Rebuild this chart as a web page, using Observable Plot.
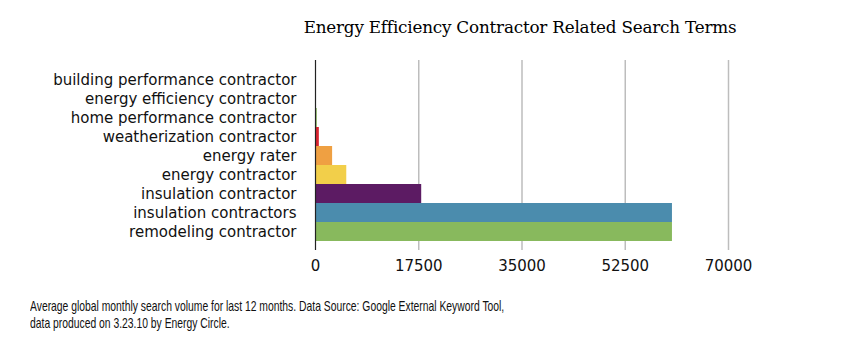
<!DOCTYPE html>
<html>
<head>
<meta charset="utf-8">
<script src="https://cdn.jsdelivr.net/npm/d3@7"></script>
<script src="https://cdn.jsdelivr.net/npm/@observablehq/plot@0.6"></script>
<style>
  html, body { margin: 0; padding: 0; background: #fff; }
  #wrap { position: relative; width: 864px; height: 352px; overflow: hidden; }
  #title { position: absolute; top: 17px; left: 0; width: 1040px; text-align: center;
    font-family: "DejaVu Serif", serif; font-size: 16.8px; color: #000; letter-spacing: -0.2px; }
  #chart { position: absolute; top: 50px; left: 0; }
  #caption { position: absolute; top: 297px; left: 30px; font-family: "Liberation Sans", sans-serif;
    font-size: 15px; line-height: 17px; color: #111; white-space: nowrap;
    transform: scaleX(0.69); transform-origin: 0 0; }
</style>
</head>
<body>
<div id="wrap">
  <div id="title">Energy Efficiency Contractor Related Search Terms</div>
  <div id="chart"></div>
  <div id="caption">Average global monthly search volume for last 12 months. Data Source: Google External Keyword Tool,<br>data produced on 3.23.10 by Energy Circle.</div>
</div>
<script>
const categories = [
  "building performance contractor",
  "energy efficiency contractor",
  "home performance contractor",
  "weatherization contractor",
  "energy rater",
  "energy contractor",
  "insulation contractor",
  "insulation contractors",
  "remodeling contractor"
];
const volumes = [30, 90, 300, 650, 2900, 5300, 18000, 60500, 60500];
const palette = ["#5c1b63", "#4b8cad", "#88b95d", "#d9242f", "#efa042", "#f2cf4a", "#5c1b63", "#4b8cad", "#88b95d"];
const xTicks = [0, 17500, 35000, 52500, 70000];

const data = categories.map((c, i) => ({term: c, volume: volumes[i], color: palette[i]}));

const plot = Plot.plot({
  width: 864,
  height: 240,
  marginLeft: 315,
  marginRight: 136,
  marginTop: 10,
  marginBottom: 40,
  style: {fontFamily: "DejaVu Sans, sans-serif", fontSize: "15px", color: "#111", background: "transparent"},
  x: {domain: [0, 70000], ticks: xTicks, label: null, tickFormat: d => String(d)},
  y: {domain: categories, paddingInner: 0, paddingOuter: 0.4, label: null},
  marks: [
    Plot.ruleX(xTicks.filter(d => d > 0), {stroke: "#bdbdbd", strokeWidth: 1.5}),
    Plot.barX(data, {x: "volume", y: "term", fill: "color", inset: 0}),
    Plot.ruleX([0], {stroke: "#222", strokeWidth: 1.2}),
    Plot.axisX({ticks: xTicks, tickSize: 0, tickPadding: 10, tickFormat: d => String(d), fontSize: 15, label: null}),
    Plot.axisY({tickSize: 0, tickPadding: 19, fontSize: 15, label: null})
  ]
});
document.getElementById("chart").appendChild(plot);
</script>
</body>
</html>
